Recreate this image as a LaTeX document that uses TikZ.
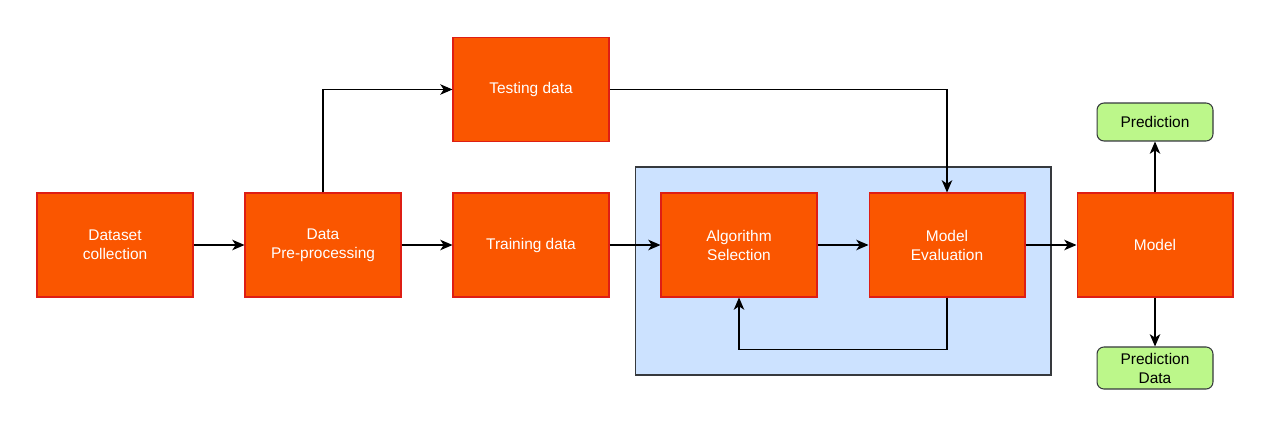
\documentclass[tikz,border=0pt]{standalone}
\usepackage{fontspec}
\setmainfont{Liberation Sans}
\usetikzlibrary{arrows.meta, positioning}
\definecolor{box fill}{RGB}{250,86,0}
\definecolor{box edge}{RGB}{222,30,20}
\definecolor{group fill}{RGB}{204,226,255}
\definecolor{dark edge}{RGB}{54,57,61}
\definecolor{out fill}{RGB}{188,247,138}
\tikzset{
  stage/.style={draw=box edge, fill=box fill, line width=0.6pt, text=white,
    minimum width=3.12cm, minimum height=2.08cm, align=center,
    font=\fontsize{8.8}{10.8}\selectfont},
  group/.style={draw=dark edge, fill=group fill, line width=0.6pt,
    minimum width=8.32cm, minimum height=4.16cm},
  result/.style={draw=dark edge, fill=out fill, line width=0.6pt, rounded corners=4pt,
    minimum width=2.32cm, minimum height=0.76cm, align=center,
    font=\fontsize{8.8}{10.8}\selectfont},
  edge/.style={-{Stealth[length=7pt,width=6pt,inset=2pt]}, line width=0.6pt}
}

\begin{document}
\begin{tikzpicture}[x=0.02cm, y=-0.02cm]
    \useasboundingbox (0,0) rectangle (1277,439);
    % container
    \node[group] (loop) at (843,271) {};
    % stages
    \node[stage] (collect) at (115,245) {Dataset\\collection};
    \node[stage] (prep) at (323,245) {Data\\Pre-processing};
    \node[stage] (train) at (531,245) {Training data};
    \node[stage] (test) at (531,89.5) {Testing data};
    \node[stage] (algo) at (739,245) {Algorithm\\Selection};
    \node[stage] (eval) at (947,245) {Model\\Evaluation};
    \node[stage] (model) at (1155,245) {Model};
    \node[result] (pred) at (1155,122) {Prediction};
    \node[result] (preddata) at (1155,368) {Prediction\\Data};
    % connectors
    \draw[edge] (collect) -- (prep);
    \draw[edge] (prep) -- (train);
    \draw[edge] (prep) |- (test);
    \draw[edge] (train) -- (algo);
    \draw[edge] (algo) -- (eval);
    \draw[edge] (test) -| (eval);
    \draw[edge] (eval.south) -- ++(0,52) -| (algo.south);
    \draw[edge] (eval) -- (model);
    \draw[edge] (model) -- (pred);
    \draw[edge] (model) -- (preddata);
\end{tikzpicture}
\end{document}
